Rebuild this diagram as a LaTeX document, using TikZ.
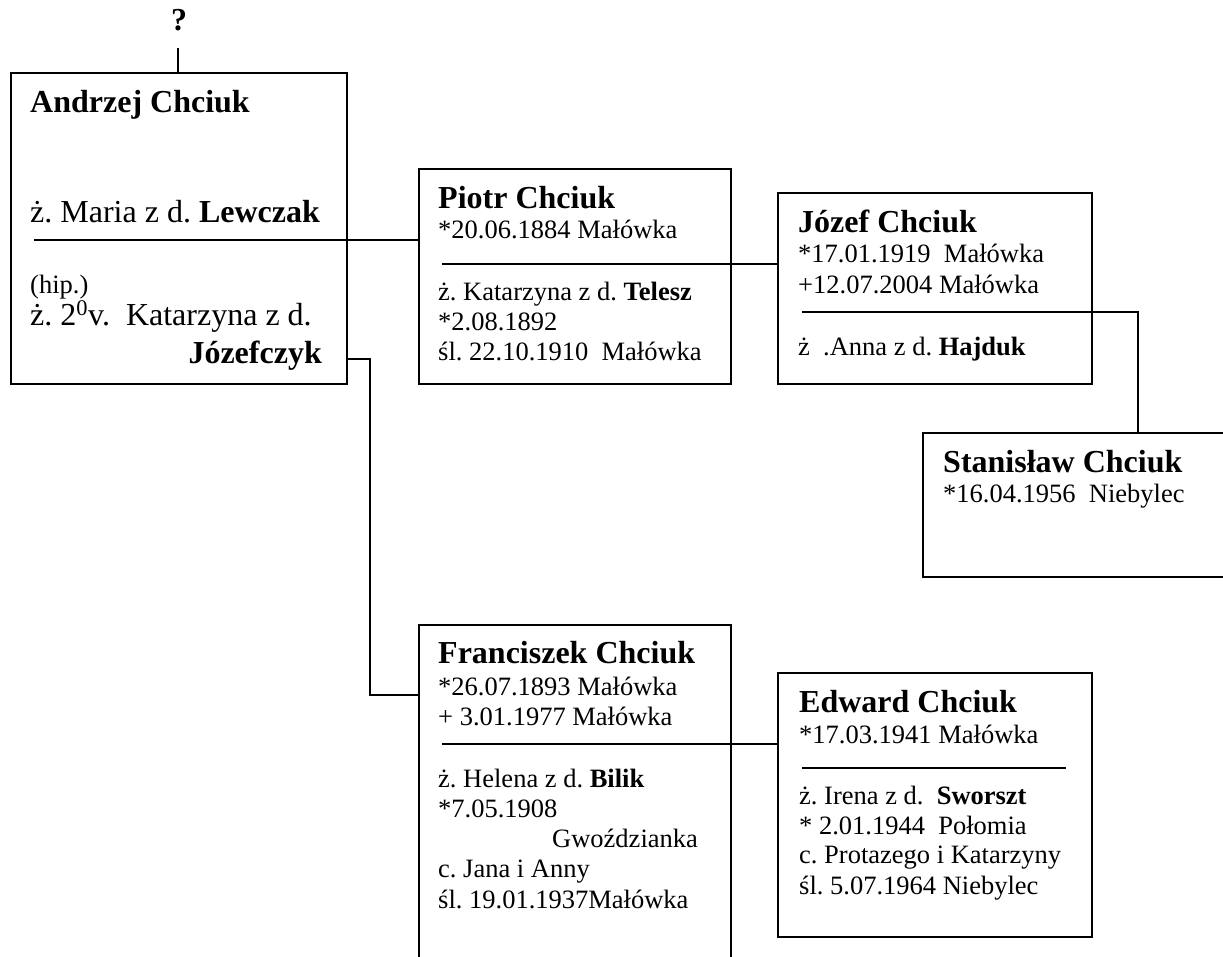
\documentclass[tikz,border=0pt]{standalone}
\usepackage{fontspec}
\setmainfont{Liberation Serif}
\newcommand\szBig{\fontsize{32}{36}\selectfont}
\newcommand\szSmall{\fontsize{26.5}{30}\selectfont}
\frenchspacing
\begin{document}
\begin{tikzpicture}[x=1pt,y=-1pt,
  txt/.style={anchor=base west, inner sep=0pt, font=\szSmall},
  txtbig/.style={anchor=base west, inner sep=0pt, font=\szBig},
  pname/.style={anchor=base west, inner sep=0pt, font=\szBig\bfseries},
  box/.style={draw, line width=2pt, inner sep=0pt, anchor=north west},
  conn/.style={line width=2pt}]
\useasboundingbox (0,0) rectangle (1223,956);
\clip (0,0) rectangle (1223,956);

% boxes
\node[box, minimum width=336pt, minimum height=311pt] (A) at (10,72) {};
\node[box, minimum width=312pt, minimum height=215pt] (P) at (418,168) {};
\node[box, minimum width=314pt, minimum height=191pt] (J) at (777,192) {};
\node[box, minimum width=330pt, minimum height=144pt] (S) at (922,432) {};
\node[box, minimum width=312pt, minimum height=360pt] (F) at (418,624) {};
\node[box, minimum width=314pt, minimum height=264pt] (E) at (777,672) {};

% question mark
\node[inner sep=0pt, font=\szBig\bfseries] (q) at (179,20) {?};
\coordinate (qe) at (178,48);
\draw[conn] (qe) -- (qe |- A.north);

% Andrzej
\node[pname] (a1) at (30,112) {Andrzej Chciuk};
\node[txtbig] (a2) at (30,222) {ż. Maria z d. \textbf{Lewczak}};
\node[txt] (a3) at (30,293) {(hip.)};
\node[txtbig] (a4) at (30,325) {ż. 2\textsuperscript{0}v.\ \ Katarzyna z d.};
\node[anchor=base east, inner sep=0pt, font=\szBig\bfseries] (a5) at (322,363) {Józefczyk};
\coordinate (al) at (34,240);
\draw[conn] (al) -- (al -| P.west);
\coordinate (ar) at (346,359);
\coordinate (ac) at (370,359);
\draw[conn] (ar) -- (ac) -- (ac |- 0,695) -- (F.west |- 0,695);

% Piotr
\node[pname] (p1) at (438,208) {Piotr Chciuk};
\node[txt] (p2) at (438,238) {*20.06.1884 Małówka};
\node[txt] (p3) at (438,300) {ż. Katarzyna z d. \textbf{Telesz}};
\node[txt] (p4) at (438,330) {*2.08.1892};
\node[txt] (p5) at (438,360) {śl. 22.10.1910\ \ Małówka};
\coordinate (pl) at (442,264);
\draw[conn] (pl) -- (pl -| J.west);

% Jozef
\node[pname] (j1) at (798,232) {Józef Chciuk};
\node[txt] (j2) at (798,262) {*17.01.1919\ \ Małówka};
\node[txt] (j3) at (798,293) {+12.07.2004 Małówka};
\node[txt] (j4) at (798,355) {ż\ \ .Anna z d. \textbf{Hajduk}};
\coordinate (jl) at (802,312);
\coordinate (jc) at (1138,312);
\draw[conn] (jl) -- (jc) -- (jc |- S.north);

% Stanislaw
\node[pname] (s1) at (943,472) {Stanisław Chciuk};
\node[txt] (s2) at (943,502) {*16.04.1956\ \ Niebylec};

% Franciszek
\node[pname] (f1) at (438,663) {Franciszek Chciuk};
\node[txt] (f2) at (438,695) {*26.07.1893 Małówka};
\node[txt] (f3) at (438,725) {+ 3.01.1977 Małówka};
\node[txt] (f4) at (438,787) {ż. Helena z d. \textbf{Bilik}};
\node[txt] (f5) at (438,817) {*7.05.1908};
\node[txt] (f6) at (552,847) {Gwoździanka};
\node[txt] (f7) at (438,877) {c. Jana i Anny};
\node[txt] (f8) at (438,908) {śl. 19.01.1937Małówka};
\coordinate (fl) at (442,744);
\draw[conn] (fl) -- (fl -| E.west);

% Edward
\node[pname] (e1) at (799,712) {Edward Chciuk};
\node[txt] (e2) at (799,743) {*17.03.1941 Małówka};
\node[txt] (e3) at (799,804) {ż. Irena z d.\ \ \textbf{Sworszt}};
\node[txt] (e4) at (799,834) {* 2.01.1944\ \ Połomia};
\node[txt] (e5) at (799,863) {c. Protazego i Katarzyny};
\node[txt] (e6) at (799,894) {śl. 5.07.1964 Niebylec};
\coordinate (el) at (802,768);
\coordinate (er) at (1066,768);
\draw[conn] (el) -- (er);
\end{tikzpicture}
\end{document}
